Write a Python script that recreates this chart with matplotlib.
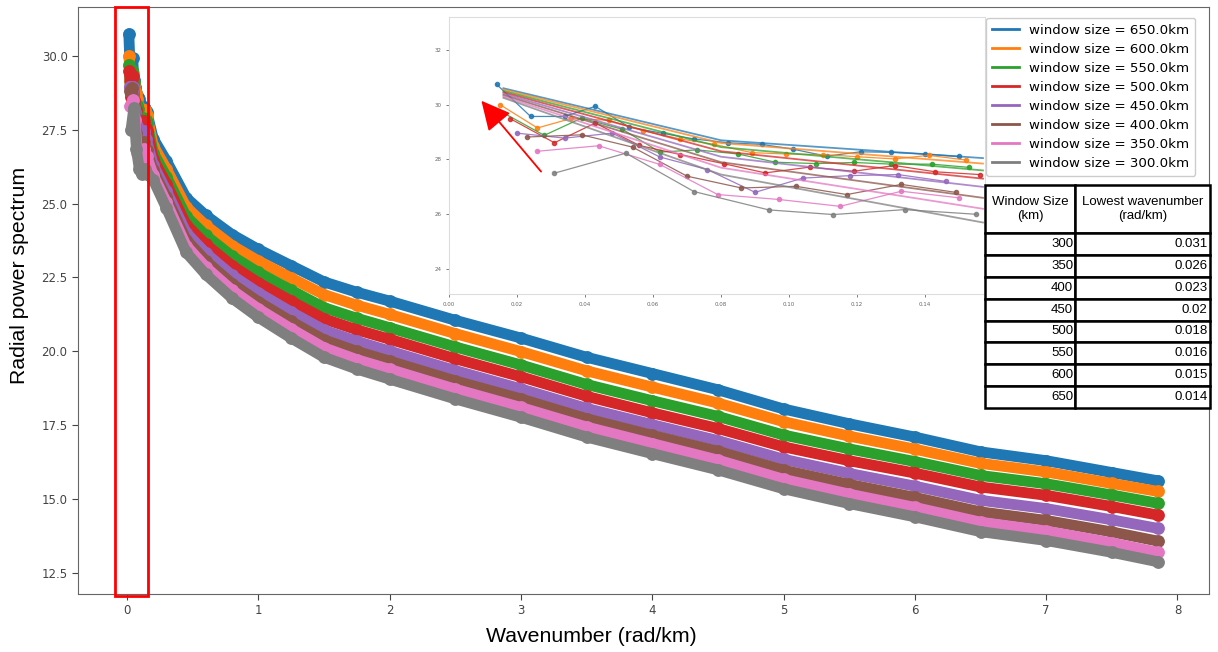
import matplotlib.pyplot as plt
import matplotlib.transforms as mtransforms
from matplotlib.lines import Line2D
from matplotlib.patches import Rectangle

window_sizes = [650, 600, 550, 500, 450, 400, 350, 300]
colors = ["#1f77b4", "#ff7f0e", "#2ca02c", "#d62728",
          "#9467bd", "#8c564b", "#e377c2", "#7f7f7f"]

# table values
table_sizes = [300, 350, 400, 450, 500, 550, 600, 650]
table_lowest_k = ["0.031", "0.026", "0.023", "0.02", "0.018", "0.016", "0.015", "0.014"]

# low wavenumber part (shown in the zoomed inset too)
k650_low = [0.014, 0.024, 0.034, 0.043, 0.053, 0.063, 0.072, 0.082, 0.092, 0.101, 0.111, 0.121, 0.130, 0.140, 0.150]
p650_low = [30.74, 29.57, 29.57, 29.94, 29.18, 28.95, 28.75, 28.61, 28.55, 28.38, 28.12, 28.28, 28.26, 28.20, 28.11]
k600_low = [0.015, 0.026, 0.036, 0.047, 0.057, 0.068, 0.078, 0.089, 0.099, 0.110, 0.120, 0.131, 0.141, 0.152]
p600_low = [30.00, 29.15, 29.50, 29.43, 29.05, 28.75, 28.55, 28.25, 28.20, 28.18, 28.10, 28.02, 28.15, 27.98]
k550_low = [0.016, 0.028, 0.039, 0.051, 0.062, 0.073, 0.085, 0.096, 0.108, 0.119, 0.130, 0.142, 0.153]
p550_low = [29.70, 28.88, 29.51, 29.10, 28.27, 28.35, 28.20, 27.90, 27.85, 27.89, 27.83, 27.83, 27.71]
k500_low = [0.018, 0.031, 0.043, 0.056, 0.068, 0.081, 0.093, 0.106, 0.119, 0.131, 0.143, 0.156]
p500_low = [29.49, 28.61, 29.33, 28.51, 28.18, 27.84, 27.51, 27.72, 27.57, 27.78, 27.55, 27.45]
k450_low = [0.020, 0.034, 0.048, 0.062, 0.076, 0.090, 0.104, 0.118, 0.132, 0.146]
p450_low = [28.96, 28.78, 28.96, 28.09, 27.63, 26.80, 27.32, 27.41, 27.45, 27.20]
k400_low = [0.023, 0.039, 0.054, 0.070, 0.086, 0.102, 0.117, 0.133, 0.149]
p400_low = [28.82, 28.90, 28.45, 27.39, 26.96, 27.02, 26.72, 27.09, 26.80]
k350_low = [0.026, 0.044, 0.062, 0.079, 0.097, 0.115, 0.133, 0.150]
p350_low = [28.30, 28.50, 27.82, 26.72, 26.54, 26.29, 26.84, 26.60]
k300_low = [0.031, 0.052, 0.072, 0.094, 0.113, 0.134, 0.155]
p300_low = [27.50, 28.23, 26.83, 26.16, 25.99, 26.17, 26.00]

# rest of the spectrum, read at coarser wavenumbers
k_grid = [0.2, 0.3, 0.45, 0.6, 0.8, 1.0, 1.25, 1.5, 1.75, 2.0, 2.5,
          3.0, 3.5, 4.0, 4.5, 5.0, 5.5, 6.0, 6.5, 7.0, 7.5, 7.85]
p650 = [27.20, 26.45, 25.20, 24.60, 23.95, 23.45, 22.90, 22.35, 22.00, 21.70, 21.05,
        20.45, 19.80, 19.25, 18.70, 18.05, 17.55, 17.10, 16.60, 16.30, 15.90, 15.62]
p600 = [26.96, 26.18, 24.89, 24.26, 23.58, 23.06, 22.48, 21.92, 21.56, 21.25, 20.60,
        19.99, 19.34, 18.79, 18.25, 17.62, 17.13, 16.69, 16.21, 15.92, 15.53, 15.26]
p550 = [26.72, 25.91, 24.57, 23.92, 23.22, 22.67, 22.07, 21.48, 21.12, 20.80, 20.15,
        19.54, 18.88, 18.33, 17.80, 17.17, 16.70, 16.27, 15.80, 15.52, 15.14, 14.86]
p500 = [26.51, 25.67, 24.29, 23.62, 22.90, 22.32, 21.70, 21.10, 20.73, 20.41, 19.75,
        19.14, 18.48, 17.92, 17.39, 16.77, 16.30, 15.88, 15.41, 15.13, 14.75, 14.46]
p450 = [26.30, 25.43, 24.02, 23.32, 22.57, 21.98, 21.33, 20.72, 20.34, 20.01, 19.35,
        18.73, 18.07, 17.52, 16.98, 16.35, 15.87, 15.44, 14.96, 14.68, 14.30, 14.01]
p400 = [26.12, 25.22, 23.78, 23.06, 22.29, 21.68, 21.01, 20.39, 20.00, 19.67, 19.00,
        18.39, 17.72, 17.16, 16.62, 15.98, 15.50, 15.06, 14.57, 14.28, 13.89, 13.58]
p350 = [25.97, 25.05, 23.58, 22.85, 22.07, 21.44, 20.76, 20.12, 19.72, 19.39, 18.72,
        18.10, 17.44, 16.88, 16.32, 15.67, 15.17, 14.72, 14.22, 13.92, 13.52, 13.20]
p300 = [25.80, 24.85, 23.35, 22.60, 21.80, 21.15, 20.45, 19.80, 19.40, 19.06, 18.39,
        17.77, 17.10, 16.54, 15.99, 15.35, 14.85, 14.40, 13.90, 13.60, 13.20, 12.88]

# smooth trend lines in the inset
k_fit = [0.016, 0.08, 0.157]
fit650 = [30.60, 28.70, 28.05]
fit600 = [30.55, 28.60, 27.85]
fit550 = [30.50, 28.45, 27.60]
fit500 = [30.45, 28.30, 27.30]
fit450 = [30.40, 28.10, 27.00]
fit400 = [30.35, 27.90, 26.60]
fit350 = [30.30, 27.70, 26.20]
fit300 = [30.25, 27.45, 25.70]

series = [
    (k650_low, p650_low, p650, fit650),
    (k600_low, p600_low, p600, fit600),
    (k550_low, p550_low, p550, fit550),
    (k500_low, p500_low, p500, fit500),
    (k450_low, p450_low, p450, fit450),
    (k400_low, p400_low, p400, fit400),
    (k350_low, p350_low, p350, fit350),
    (k300_low, p300_low, p300, fit300),
]

W, H = 1218, 652
fig = plt.figure(figsize=(W / 100, H / 100), dpi=100)

# main axes
ax = fig.add_axes([78 / W, 1 - 594 / H, (1209 - 78) / W, (594 - 7) / H])
for (klow, plow, pg, _), c in zip(series, colors):
    ax.plot(klow + k_grid, plow + pg, "-o", color=c, lw=7.8, ms=8.2,
            solid_joinstyle="round", solid_capstyle="round")
ax.set_xlim(-0.373, 8.24)
ax.set_ylim(11.79, 31.65)
ax.set_xticks(range(0, 9))
ax.set_yticks([12.5, 15.0, 17.5, 20.0, 22.5, 25.0, 27.5, 30.0])
ax.tick_params(labelsize=8.5, colors="#444444", length=4)
for sp in ax.spines.values():
    sp.set_color("#666666")

# red box around the low wavenumbers
trans = mtransforms.blended_transform_factory(ax.transData, ax.transAxes)
ax.add_patch(Rectangle((-0.091, -0.004), 0.251, 1.004, transform=trans,
                       fill=False, edgecolor="red", lw=2, clip_on=False, zorder=5))

fig.text(591 / W, 1 - 636 / H, "Wavenumber (rad/km)", ha="center", va="center",
         fontsize=15.3, family="Liberation Sans")
fig.text(20 / W, 1 - 275 / H, "Radial power spectrum", ha="center", va="center",
         rotation=90, fontsize=15.3, family="Liberation Sans")

# zoomed inset
iax = fig.add_axes([449 / W, 1 - 294 / H, (985 - 449) / W, (294 - 17) / H])
for (klow, plow, _, fit), c in zip(series, colors):
    iax.plot(k_fit, fit, color=c, lw=1.3, alpha=0.75)
    iax.plot(klow, plow, "-o", color=c, lw=0.9, ms=3, alpha=0.85)
iax.set_xlim(0, 0.1576)
iax.set_ylim(23.09, 33.2)
iax.set_xticks([0.00, 0.02, 0.04, 0.06, 0.08, 0.10, 0.12, 0.14])
iax.set_xticklabels(["0.00", "0.02", "0.04", "0.06", "0.08", "0.10", "0.12", "0.14"])
iax.set_yticks([24, 26, 28, 30, 32])
iax.tick_params(labelsize=4, colors="#666666", length=2, width=0.6)
for sp in iax.spines.values():
    sp.set_color("#dddddd")
iax.annotate("", xy=(0.009, 30.22), xytext=(0.0276, 27.48),
             arrowprops=dict(arrowstyle="-|>,head_width=0.45,head_length=0.9",
                             color="red", lw=1.3, mutation_scale=20))

# legend
handles = [Line2D([], [], color=c, lw=2) for c in colors]
labels = [f"window size = {s:.1f}km" for s in window_sizes]
leg = fig.legend(handles, labels, loc="upper right",
                 bbox_to_anchor=(1202 / W, 1 - 11 / H), fontsize=9.6,
                 labelspacing=0.45, handlelength=2.0, borderpad=0.45,
                 framealpha=1, edgecolor="#cccccc")

# table
tax = fig.add_axes([985 / W, 1 - 408 / H, 225 / W, 223 / H])
tax.axis("off")
rows = [[str(s), k] for s, k in zip(table_sizes, table_lowest_k)]
tbl = tax.table(cellText=rows,
                colLabels=["Window Size\n(km)", "Lowest wavenumber\n(rad/km)"],
                cellLoc="right", colLoc="center", colWidths=[0.4, 0.6],
                bbox=[0, 0, 1, 1])
tbl.auto_set_font_size(False)
tbl.set_fontsize(9.5)
for (r, c), cell in tbl.get_celld().items():
    cell.set_linewidth(1.8)
    cell.set_edgecolor("black")
    cell.PAD = 0.02
    cell.get_text().set_family("Liberation Sans")
    if r == 0:
        cell.set_height(cell.get_height() * 2.2)
        cell.get_text().set_linespacing(1.25)

fig.savefig("out.png", dpi=100)
